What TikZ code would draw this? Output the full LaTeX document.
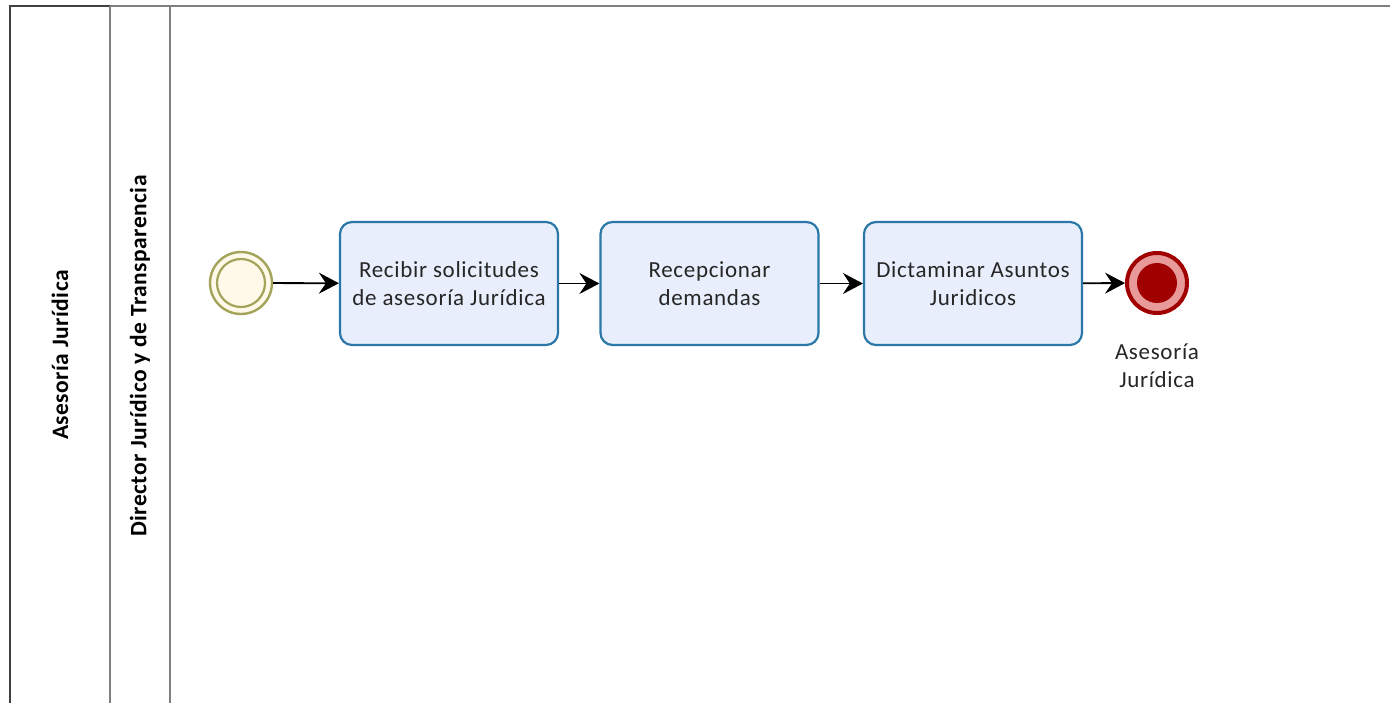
\documentclass[tikz,border=0pt]{standalone}
\usepackage{fontspec}
\setmainfont{Carlito}
\newfontfamily\labelfont[LetterSpace=3]{Carlito}
\newfontfamily\lanefont[LetterSpace=2]{Carlito}
\usetikzlibrary{arrows.meta}
\definecolor{poolline}{HTML}{7F7F7F}
\definecolor{pooledge}{HTML}{404040}
\definecolor{taskline}{HTML}{2A77A8}
\definecolor{taskfill}{HTML}{E8EEFB}
\definecolor{startline}{HTML}{A3A35A}
\definecolor{startfill}{HTML}{FFF9EA}
\definecolor{endline}{HTML}{A00000}
\definecolor{endring}{HTML}{E89A9A}
\tikzset{
  x=1pt, y=-1pt,
  labeltext/.style={font=\labelfont\fontsize{23}{28}\selectfont, text=black!85},
  task/.style={draw=taskline, fill=taskfill, line width=2.2pt, rounded corners=12pt,
    minimum width=218pt, minimum height=123pt, align=center, labeltext},
  flow/.style={-{Stealth[length=20pt,width=21pt,inset=7pt]}, line width=1.8pt, black},
  lanelabel/.style={rotate=90, font=\lanefont\bfseries\fontsize{23.5}{26}\selectfont},
}
\begin{document}
\begin{tikzpicture}
\useasboundingbox (0,0) rectangle (1390,703);
\fill[white] (0,0) rectangle (1390,703);
% pool frame and lane headers
\draw[poolline, line width=2pt] (10,6) -- (1390,6);
\draw[pooledge, line width=2pt] (10,703) -- (10,6) -- (110,6);
\draw[poolline, line width=1.8pt] (110,6) -- (110,703);
\draw[poolline, line width=1.8pt] (170,6) -- (170,703);
\node[lanelabel] (pool) at (60,355) {Asesoría Jurídica};
\node[lanelabel] (lane) at (140,356) {Director Jurídico y de Transparencia};
% start event
\node[circle, draw=startline, line width=2.4pt, fill=startfill, minimum size=62pt, inner sep=0pt] (start) at (241,283) {};
\draw[startline, line width=2.2pt] (start.center) circle (24pt);
% tasks
\node[task] (t1) at (449,283.5) {Recibir solicitudes\\de asesoría Jurídica};
\node[task] (t2) at (709.5,283.5) {Recepcionar\\demandas};
\node[task] (t3) at (973,283.5) {Dictaminar Asuntos\\Juridicos};
% end event
\node[circle, draw=endline, line width=4pt, fill=endring, minimum size=60pt, inner sep=0pt] (end) at (1157,283) {};
\fill[endline] (end.center) circle (20pt);
\node[align=center, labeltext, anchor=north] (endlabel) at (1157,340) {Asesoría\\Jurídica};
% sequence flows
\draw[flow] (start) -- (t1);
\draw[flow] (t1) -- (t2);
\draw[flow] (t2) -- (t3);
\draw[flow] (t3) -- (end);
\end{tikzpicture}
\end{document}
